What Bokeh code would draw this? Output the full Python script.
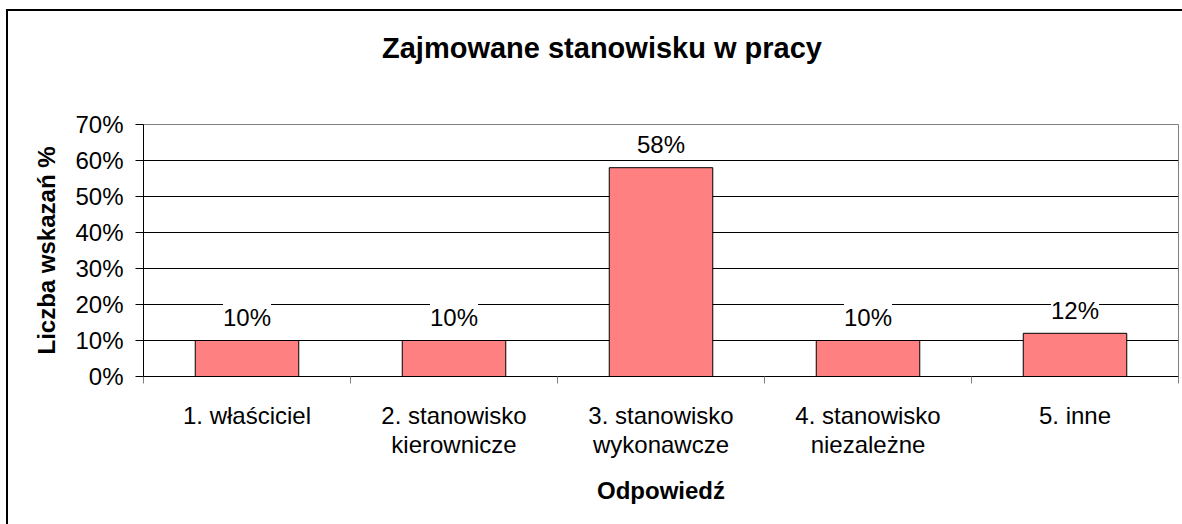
from bokeh.plotting import figure
from bokeh.models import (Range1d, FixedTicker, NumeralTickFormatter, ColumnDataSource,
                          LabelSet, Div)
from bokeh.layouts import column
from bokeh.core.properties import value
from bokeh.embed import file_html
from bokeh.resources import INLINE

# ---- data ----
categories = ["1. właściciel", "2. stanowisko\nkierownicze", "3. stanowisko\nwykonawcze",
              "4. stanowisko\nniezależne", "5. inne"]
values = [0.10, 0.10, 0.58, 0.10, 0.12]
y_ticks = [0.0, 0.1, 0.2, 0.3, 0.4, 0.5, 0.6, 0.7]
title_text = "Zajmowane stanowisku w pracy"
x_label = "Odpowiedź"
y_label = "Liczba wskazań %"

FONT = "Liberation Sans"

centers = [i + 0.5 for i in range(len(categories))]
bounds = list(range(len(categories) + 1))

src = ColumnDataSource(dict(
    x=centers,
    top=values,
    lab=["%d%%" % round(v * 100) for v in values],
))

# title block
title_div = Div(
    text=('<div style="font-family:\'Liberation Sans\',Arial,sans-serif;font-weight:bold;'
          'font-size:29px;line-height:34px;padding-top:20px;padding-left:374px;'
          'color:#000000;white-space:nowrap;">%s</div>' % title_text),
    width=1174, height=53, margin=0)

p = figure(width=1174, height=460, output_backend="svg", toolbar_location=None, title=None,
           x_range=Range1d(0, len(categories)), y_range=Range1d(y_ticks[0], y_ticks[-1]),
           min_border_left=135, min_border_right=4, min_border_top=60, min_border_bottom=148,
           margin=0)

p.vbar(x="x", top="top", bottom=0, width=0.5, source=src,
       fill_color="#FF8080", line_color="#000000", line_width=1)

labels = LabelSet(x="x", y="top", text="lab", source=src, y_offset=23,
                  text_align="center", text_baseline="middle",
                  text_font=value(FONT), text_font_size=value("24px"), text_color="#000000",
                  background_fill_color="white")
p.add_layout(labels)

# frame / grid
p.background_fill_color = "white"
p.border_fill_color = "white"
p.outline_line_color = "#808080"
p.outline_line_width = 1
p.xgrid.visible = False
p.ygrid[0].ticker = FixedTicker(ticks=y_ticks[1:-1])
p.ygrid.grid_line_color = "#000000"
p.ygrid.grid_line_width = 1

# y axis
ya = p.yaxis[0]
ya.ticker = FixedTicker(ticks=y_ticks)
ya.formatter = NumeralTickFormatter(format="0%")
ya.axis_line_color = "#000000"
ya.major_tick_line_color = "#000000"
ya.major_tick_out = 8
ya.major_tick_in = 0
ya.minor_tick_line_color = None
ya.major_label_standoff = 12
ya.major_label_text_font = FONT
ya.major_label_text_font_size = "24px"
ya.major_label_text_color = "#000000"
ya.axis_label = y_label
ya.axis_label_text_font = FONT
ya.axis_label_text_font_size = "24px"
ya.axis_label_text_font_style = "bold"
ya.axis_label_text_color = "#000000"
ya.axis_label_standoff = 12

# x axis
xa = p.xaxis[0]
xa.ticker = FixedTicker(ticks=centers, minor_ticks=bounds)
xa.major_label_overrides = {c: lab for c, lab in zip(centers, categories)}
xa.axis_line_color = "#000000"
xa.major_tick_in = 0
xa.major_tick_out = 0
xa.major_tick_line_color = None
xa.minor_tick_line_color = "#808080"
xa.minor_tick_in = 0
xa.minor_tick_out = 7
xa.major_label_standoff = 18
xa.major_label_text_font = FONT
xa.major_label_text_font_size = "24px"
xa.major_label_text_color = "#000000"
xa.major_label_text_line_height = 1.1
xa.axis_label = x_label
xa.axis_label_text_font = FONT
xa.axis_label_text_font_size = "24px"
xa.axis_label_text_font_style = "bold"
xa.axis_label_text_color = "#000000"
xa.axis_label_standoff = 16

layout = column(title_div, p, spacing=0)
layout.styles = {"border-left": "2px solid black", "border-top": "2px solid black",
                 "margin-left": "6px", "margin-top": "9px", "background-color": "white"}

open("out.html", "w").write(file_html(layout, INLINE))
